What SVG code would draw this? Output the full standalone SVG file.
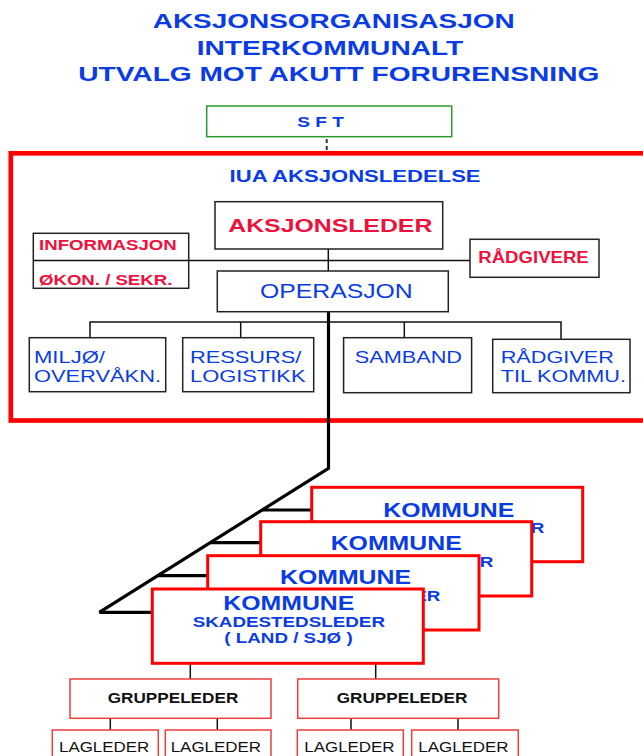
<svg xmlns="http://www.w3.org/2000/svg" width="643" height="756" viewBox="0 0 643 756">
<style>
text{font-family:"Liberation Sans",Arial,sans-serif}
.t{font-weight:bold;fill:#0a3ce6;font-size:21px}
.b{fill:#fff;stroke:#222;stroke-width:1.5}
.rt{font-weight:bold;fill:#f0103c}
.bl{fill:#0a3ce6}
.blb{fill:#0a3ce6;font-weight:bold}
.k{fill:#fff;stroke:#ff0000;stroke-width:3}
.g{fill:#fff;stroke:#f03c3c;stroke-width:1.5}
.ln{stroke:#111;stroke-width:1.5;fill:none}
.th{stroke:#000;stroke-width:3.2;fill:none}
</style>
<rect width="643" height="756" fill="#fff"/>
<g id="title">
<text class="t" x="152.7" y="28" textLength="362" lengthAdjust="spacingAndGlyphs">AKSJONSORGANISASJON</text>
<text class="t" x="196.7" y="54.5" textLength="266.6" lengthAdjust="spacingAndGlyphs">INTERKOMMUNALT</text>
<text class="t" x="78.3" y="80.7" textLength="521" lengthAdjust="spacingAndGlyphs">UTVALG MOT AKUTT FORURENSNING</text>
</g>
<g id="iua-frame">
<rect x="10.8" y="153.3" width="700" height="267.2" fill="#fff" stroke="#ff0000" stroke-width="4.7"/>
<text class="blb" x="229.6" y="182.3" font-size="17" textLength="251" lengthAdjust="spacingAndGlyphs">IUA AKSJONSLEDELSE</text>
</g>
<g id="connectors">
<line x1="326.7" y1="139" x2="326.7" y2="152" stroke="#333" stroke-width="2" stroke-dasharray="4 3"/>
<line class="ln" x1="33.3" y1="260.5" x2="470" y2="260.5"/>
<line class="ln" x1="328.3" y1="249" x2="328.3" y2="271"/>
<polyline class="ln" points="90,338 90,322 561,322 561,339"/>
<line class="ln" x1="240.7" y1="322" x2="240.7" y2="338"/>
<line class="ln" x1="404.3" y1="322" x2="404.3" y2="338"/>
<polyline class="th" points="328.5,311.7 328.5,468.3 99.3,612.3" stroke-linejoin="miter"/>
<line class="th" x1="262.3" y1="510" x2="311.7" y2="510"/>
<line class="th" x1="210.5" y1="542.7" x2="260.7" y2="542.7"/>
<line class="th" x1="157.5" y1="575.7" x2="207.7" y2="575.7"/>
<line class="th" x1="99.3" y1="612.3" x2="152.3" y2="612.3"/>
<line class="ln" x1="190.3" y1="663.3" x2="190.3" y2="679"/>
<line class="ln" x1="375.7" y1="663.3" x2="375.7" y2="679"/>
<line class="ln" x1="110.3" y1="718.3" x2="110.3" y2="730"/>
<line class="ln" x1="217.3" y1="718.3" x2="217.3" y2="730"/>
<line class="ln" x1="351" y1="718.3" x2="351" y2="730"/>
<line class="ln" x1="458" y1="718.3" x2="458" y2="730"/>
</g>
<g id="sft">
<rect x="206.7" y="106" width="245" height="30.7" fill="#fff" stroke="#2a9a2a" stroke-width="1.5"/>
<text class="blb" x="297.3" y="127.3" font-size="15.5" textLength="46.7" lengthAdjust="spacingAndGlyphs">S F T</text>
</g>
<g id="aksjonsleder">
<rect class="b" x="215" y="201.7" width="227.7" height="47.3"/>
<text class="rt" x="228.3" y="231.7" font-size="19" textLength="204" lengthAdjust="spacingAndGlyphs">AKSJONSLEDER</text>
</g>
<g id="informasjon">
<rect class="b" x="33.3" y="233.3" width="155.4" height="55" fill="none"/>
<line class="ln" x1="33.3" y1="260.5" x2="188.7" y2="260.5"/>
<text class="rt" x="39" y="250" font-size="15" textLength="137.7" lengthAdjust="spacingAndGlyphs">INFORMASJON</text>
<text class="rt" x="39" y="285" font-size="15" textLength="133.3" lengthAdjust="spacingAndGlyphs">ØKON. / SEKR.</text>
</g>
<g id="radgivere">
<rect class="b" x="470" y="239.3" width="129" height="38"/>
<text class="rt" x="478.3" y="263.3" font-size="16" textLength="110.4" lengthAdjust="spacingAndGlyphs">RÅDGIVERE</text>
</g>
<g id="operasjon">
<rect class="b" x="217.3" y="271" width="231" height="40.7"/>
<text class="bl" x="260" y="298.3" font-size="21" textLength="152.7" lengthAdjust="spacingAndGlyphs">OPERASJON</text>
</g>
<g id="miljo">
<rect class="b" x="29.3" y="337.7" width="136.4" height="54"/>
<text class="bl" x="34" y="363.3" font-size="17" textLength="71" lengthAdjust="spacingAndGlyphs">MILJØ/</text>
<text class="bl" x="34" y="382.3" font-size="17" textLength="127" lengthAdjust="spacingAndGlyphs">OVERVÅKN.</text>
</g>
<g id="ressurs">
<rect class="b" x="182.7" y="337.7" width="131" height="54"/>
<text class="bl" x="190" y="363.3" font-size="17" textLength="111.4" lengthAdjust="spacingAndGlyphs">RESSURS/</text>
<text class="bl" x="190" y="382.3" font-size="17" textLength="115.5" lengthAdjust="spacingAndGlyphs">LOGISTIKK</text>
</g>
<g id="samband">
<rect class="b" x="343.6" y="337.7" width="128" height="55"/>
<text class="bl" x="354.7" y="363.3" font-size="17" textLength="107.3" lengthAdjust="spacingAndGlyphs">SAMBAND</text>
</g>
<g id="radgiver-kommu">
<rect class="b" x="492.7" y="339.3" width="137.3" height="53.4"/>
<text class="bl" x="500.7" y="363.3" font-size="17" textLength="113.3" lengthAdjust="spacingAndGlyphs">RÅDGIVER</text>
<text class="bl" x="500.7" y="382.3" font-size="17" textLength="125.3" lengthAdjust="spacingAndGlyphs">TIL KOMMU.</text>
</g>
<g id="kommune1">
<rect class="k" x="311.7" y="487.3" width="271" height="74.4"/>
<text class="blb" x="383.3" y="517.3" font-size="20" textLength="131" lengthAdjust="spacingAndGlyphs">KOMMUNE</text>
<text class="blb" x="352.1" y="532.5" font-size="15" textLength="192.3" lengthAdjust="spacingAndGlyphs">SKADESTEDSLEDER</text>
<text class="blb" x="383.7" y="548.5" font-size="15" textLength="128.4" lengthAdjust="spacingAndGlyphs">( LAND / SJØ )</text>
</g>
<g id="kommune2">
<rect class="k" x="260.7" y="521.7" width="271" height="74.3"/>
<text class="blb" x="330.7" y="550" font-size="20" textLength="131" lengthAdjust="spacingAndGlyphs">KOMMUNE</text>
<text class="blb" x="301.1" y="566.7" font-size="15" textLength="192.3" lengthAdjust="spacingAndGlyphs">SKADESTEDSLEDER</text>
<text class="blb" x="332.7" y="582.7" font-size="15" textLength="128.4" lengthAdjust="spacingAndGlyphs">( LAND / SJØ )</text>
</g>
<g id="kommune3">
<rect class="k" x="207.7" y="555.7" width="271.3" height="74.3"/>
<text class="blb" x="280" y="584" font-size="20" textLength="131" lengthAdjust="spacingAndGlyphs">KOMMUNE</text>
<text class="blb" x="248.1" y="600.7" font-size="15" textLength="192.3" lengthAdjust="spacingAndGlyphs">SKADESTEDSLEDER</text>
<text class="blb" x="279.7" y="616.7" font-size="15" textLength="128.4" lengthAdjust="spacingAndGlyphs">( LAND / SJØ )</text>
</g>
<g id="kommune4">
<rect class="k" x="152.3" y="589" width="271" height="74.3"/>
<text class="blb" x="223.3" y="610" font-size="20" textLength="131" lengthAdjust="spacingAndGlyphs">KOMMUNE</text>
<text class="blb" x="192.7" y="627.3" font-size="15" textLength="192.3" lengthAdjust="spacingAndGlyphs">SKADESTEDSLEDER</text>
<text class="blb" x="224.3" y="643.3" font-size="15" textLength="128.4" lengthAdjust="spacingAndGlyphs">( LAND / SJØ )</text>
</g>
<g id="gruppeleder1">
<rect class="g" x="70" y="679" width="201" height="39.3"/>
<text x="107.7" y="703.3" font-size="15" font-weight="bold" fill="#111" textLength="130.6" lengthAdjust="spacingAndGlyphs">GRUPPELEDER</text>
</g>
<g id="gruppeleder2">
<rect class="g" x="297.7" y="679" width="201" height="39.3"/>
<text x="336.7" y="703.3" font-size="15" font-weight="bold" fill="#111" textLength="130.6" lengthAdjust="spacingAndGlyphs">GRUPPELEDER</text>
</g>
<g id="lagleder1">
<rect class="g" x="52.3" y="730" width="106" height="40"/>
<text x="59" y="752" font-size="14" fill="#111" textLength="90.3" lengthAdjust="spacingAndGlyphs">LAGLEDER</text>
</g>
<g id="lagleder2">
<rect class="g" x="165.3" y="730" width="105.7" height="40"/>
<text x="170.7" y="752" font-size="14" fill="#111" textLength="90.3" lengthAdjust="spacingAndGlyphs">LAGLEDER</text>
</g>
<g id="lagleder3">
<rect class="g" x="297.3" y="730" width="106" height="40"/>
<text x="304.3" y="752" font-size="14" fill="#111" textLength="90.3" lengthAdjust="spacingAndGlyphs">LAGLEDER</text>
</g>
<g id="lagleder4">
<rect class="g" x="411.7" y="730" width="106.6" height="40"/>
<text x="418.3" y="752" font-size="14" fill="#111" textLength="90.3" lengthAdjust="spacingAndGlyphs">LAGLEDER</text>
</g>
</svg>
